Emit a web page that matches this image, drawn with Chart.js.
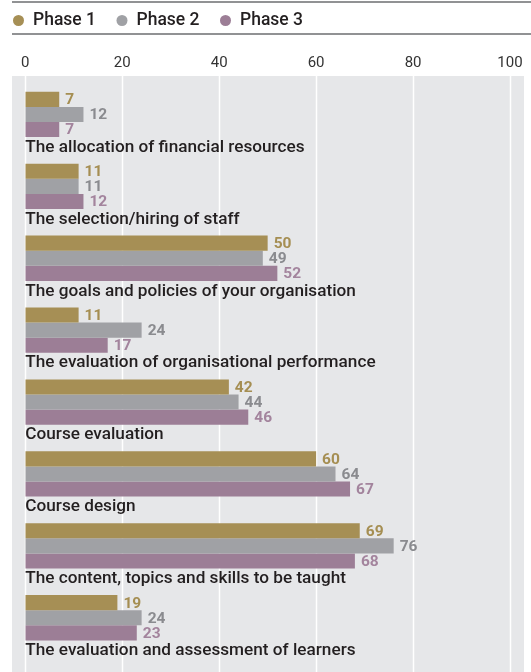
<!DOCTYPE html>
<html>
<head>
<meta charset="utf-8">
<script src="https://cdn.jsdelivr.net/npm/chart.js@4"></script>
<style>
  html, body { margin: 0; padding: 0; background: #fff; }
  #wrap { width: 531px; height: 672px; position: relative; }
</style>
</head>
<body>
<div id="wrap"><canvas id="phaseChart"></canvas></div>
<script>
// Données
const categories = [
    'The allocation of financial resources',
    'The selection/hiring of staff',
    'The goals and policies of your organisation',
    'The evaluation of organisational performance',
    'Course evaluation',
    'Course design',
    'The content, topics and skills to be taught',
    'The evaluation and assessment of learners'
];
const seriesNames = ['Phase 1', 'Phase 2', 'Phase 3'];
const phase1 = [7, 11, 50, 11, 42, 60, 69, 19];
const phase2 = [12, 11, 49, 24, 44, 64, 76, 24];
const phase3 = [7, 12, 52, 17, 46, 67, 68, 23];
const xTicks = [0, 20, 40, 60, 80, 100];

const barColors = ['#a68f55', '#a0a1a5', '#9c7e96'];
const valueColors = ['#a58e52', '#8a8b8f', '#a3849d'];
const FONT = 'Roboto, "DejaVu Sans", sans-serif';

// Fond gris + grille blanche + filets du haut
const backdrop = {
    id: 'backdrop',
    beforeDraw(chart) {
        const ctx = chart.ctx;
        const xs = chart.scales.x;
        ctx.save();
        ctx.fillStyle = '#e6e7e9';
        ctx.fillRect(12, 76, 512, 596);
        ctx.strokeStyle = '#ffffff';
        ctx.lineWidth = 1.5;
        xTicks.forEach(t => {
            const x = Math.round(xs.getPixelForValue(t)) + 0.5;
            ctx.beginPath();
            ctx.moveTo(x, 76);
            ctx.lineTo(x, 672);
            ctx.stroke();
        });
        ctx.strokeStyle = '#6d6e71';
        ctx.lineWidth = 1.5;
        [2, 34].forEach(y => {
            ctx.beginPath();
            ctx.moveTo(12, y);
            ctx.lineTo(531, y);
            ctx.stroke();
        });
        ctx.restore();
    }
};

// Légende maison (pastilles rondes)
const legendDots = {
    id: 'legendDots',
    afterDraw(chart) {
        const ctx = chart.ctx;
        ctx.save();
        ctx.font = '500 17.5px ' + FONT;
        ctx.textBaseline = 'middle';
        let x = 18.5;
        chart.data.datasets.forEach(ds => {
            ctx.fillStyle = ds.backgroundColor;
            ctx.beginPath();
            ctx.arc(x, 20.5, 5.5, 0, Math.PI * 2);
            ctx.fill();
            ctx.fillStyle = '#231f20';
            ctx.fillText(ds.label, x + 14.5, 21);
            x += 14.5 + ctx.measureText(ds.label).width + 26;
        });
        ctx.restore();
    }
};

// Libellés des catégories sous les barres + valeurs
const labels = {
    id: 'labels',
    afterDatasetsDraw(chart) {
        const ctx = chart.ctx;
        const ys = chart.scales.y;
        ctx.save();
        ctx.textBaseline = 'middle';
        ctx.fillStyle = '#231f20';
        ctx.font = '500 17.2px ' + FONT;
        categories.forEach((c, i) => {
            ctx.fillText(c, chart.chartArea.left, ys.getPixelForValue(i) + 33);
        });
        ctx.font = 'bold 15.5px ' + FONT;
        chart.data.datasets.forEach((ds, di) => {
            ctx.fillStyle = valueColors[di];
            chart.getDatasetMeta(di).data.forEach((bar, i) => {
                ctx.fillText(String(ds.data[i]), bar.x + 6, bar.y + 1);
            });
        });
        ctx.restore();
    }
};

const series = [phase1, phase2, phase3];

document.addEventListener('DOMContentLoaded', () => {
    const ctx = document.getElementById('phaseChart').getContext('2d');
    new Chart(ctx, {
        type: 'bar',
        data: {
            labels: categories,
            datasets: series.map((d, i) => ({
                label: seriesNames[i],
                data: d,
                backgroundColor: barColors[i],
                categoryPercentage: 0.63,
                barPercentage: 1.0
            }))
        },
        options: {
            indexAxis: 'y',
            responsive: true,
            maintainAspectRatio: false,
            animation: false,
            layout: { padding: { left: 25.3, right: 21, top: 48.5, bottom: 18.3 } },
            scales: {
                x: {
                    position: 'top',
                    min: 0,
                    max: 100,
                    afterFit(s) { s.height = 30; },
                    afterBuildTicks(s) { s.ticks = xTicks.map(v => ({ value: v })); },
                    ticks: { color: '#333', font: { family: FONT, size: 15 }, padding: 6, maxRotation: 0 },
                    grid: { display: false, drawTicks: false },
                    border: { display: false }
                },
                y: { display: false }
            },
            plugins: {
                legend: { display: false },
                tooltip: { enabled: false }
            }
        },
        plugins: [backdrop, legendDots, labels]
    });
});
</script>
</body>
</html>
